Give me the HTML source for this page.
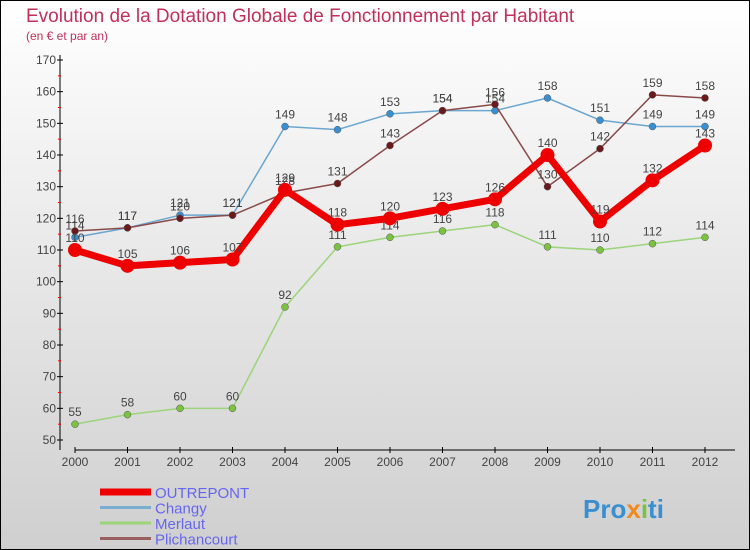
<!DOCTYPE html>
<html><head><meta charset="utf-8"><style>
body{margin:0}
svg{display:block;font-family:"Liberation Sans",sans-serif}
</style></head><body>
<svg width="750" height="550">
<defs><linearGradient id="bg" x1="0" y1="0" x2="0" y2="1"><stop offset="0" stop-color="#ffffff"/><stop offset="1" stop-color="#cfcfcf"/></linearGradient></defs>
<rect x="0.5" y="0.5" width="749" height="549" fill="url(#bg)" stroke="#000"/>
<text x="26" y="22" font-size="19" fill="#c0305a">Evolution de la Dotation Globale de Fonctionnement par Habitant</text>
<text x="26" y="40" font-size="12" fill="#c0305a">(en € et par an)</text>
<g id="axes"></g>
<g id="series"></g>
<g id="legend"></g>
<text x="583" y="518" font-size="26" font-weight="bold" fill="#3a8fd0">Pro<tspan fill="#f08a1c">x</tspan><tspan fill="#7cc242">i</tspan>ti</text>
</svg>
<script>
const years=[2000,2001,2002,2003,2004,2005,2006,2007,2008,2009,2010,2011,2012];
const yTicks=[50,60,70,80,90,100,110,120,130,140,150,160,170];
const outrepont=[110,105,106,107,129,118,120,123,126,140,119,132,143];
const changy=[114,117,121,121,149,148,153,154,154,158,151,149,149];
const merlaut=[55,58,60,60,92,111,114,116,118,111,110,112,114];
const plichancourt=[116,117,120,121,128,131,143,154,156,130,142,159,158];
const NS="http://www.w3.org/2000/svg";
const xS=i=>75+i*52.5;
const yS=v=>440-(v-50)*(380/120);
function mk(tag,attrs,parent){const e=document.createElementNS(NS,tag);for(const k in attrs)e.setAttribute(k,attrs[k]);parent.appendChild(e);return e;}
const ax=document.getElementById('axes');
let e=mk('line',{x1:60,y1:55,x2:60,y2:450,stroke:'#000'},ax);


e=mk('line',{x1:75,y1:450,x2:735,y2:450,stroke:'#000'},ax);


yTicks.forEach(v=>{
  mk('line',{x1:57,y1:yS(v),x2:63,y2:yS(v),stroke:'#000'},ax);
  if(v<170)mk('line',{x1:58,y1:yS(v+5),x2:61,y2:yS(v+5),stroke:'#f00'},ax);
  const t=mk('text',{x:56,y:yS(v)+4,'text-anchor':'end','font-size':12,fill:'#444'},ax);t.textContent=v;
  
  
});
years.forEach((y,i)=>{
  mk('line',{x1:xS(i),y1:447,x2:xS(i),y2:453,stroke:'#000'},ax);
  const t=mk('text',{x:xS(i),y:466,'text-anchor':'middle','font-size':12,fill:'#444'},ax);t.textContent=y;
  
  
});
const sg=document.getElementById('series');
function draw(data,color,dot,w,r,name){
  const g=mk('g',{},sg);
  
  
  const l=mk('polyline',{points:data.map((v,i)=>xS(i)+','+yS(v)).join(' '),fill:'none',stroke:color,'stroke-width':w,'stroke-linejoin':'round'},g);
  
  
  data.forEach((v,i)=>{
    const c=mk('circle',{cx:xS(i),cy:yS(v),r:r,fill:dot,stroke:w>3?'none':'#555','stroke-width':0.5},g);
    
    
    const t=mk('text',{x:xS(i),y:yS(v)-8,'text-anchor':'middle','font-size':12,fill:'#444'},g);t.textContent=v;
    
    
  });
}
draw(merlaut,'#9bd47a','#7cc242',1.5,3.5,'merlaut');
draw(changy,'#6aa6d0','#3a8fd0',1.5,3.5,'changy');
draw(plichancourt,'#8a4a4a','#6a1a1a',1.5,3.5,'plichancourt');
draw(outrepont,'#ee0000','#ee0000',7,7,'outrepont');
const lg=document.getElementById('legend');
const items=[['OUTREPONT','#ee0000',7],['Changy','#7aaed0',3],['Merlaut','#9bd47a',3],['Plichancourt','#9a6060',3]];
items.forEach((it,i)=>{
  const y=492+i*15.5;
  const g=mk('g',{},lg);
  
  
  mk('line',{x1:100,y1:y,x2:151,y2:y,stroke:it[1],'stroke-width':it[2]},g);
  const t=mk('text',{x:155,y:y+6,'font-size':15,fill:'#6666ee'},g);t.textContent=it[0];
});
</script>
</body></html>
